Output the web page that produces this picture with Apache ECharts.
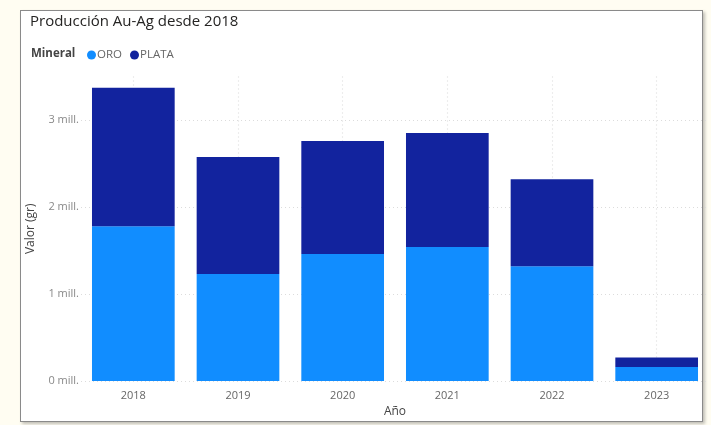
<!DOCTYPE html>
<html>
<head>
<meta charset="utf-8">
<script src="https://cdn.jsdelivr.net/npm/echarts@6/dist/echarts.min.js"></script>
<style>
  html, body { margin:0; padding:0; width:711px; height:425px; background:#fffdf2; overflow:hidden; }
  #frame { position:absolute; left:20px; top:10px; width:681px; height:410px; background:#fff; border:1.5px solid #8a8a8a; box-shadow: 2px 2px 3px rgba(0,0,0,0.25); }
  #chart { position:absolute; left:0; top:0; width:711px; height:425px; }
</style>
</head>
<body>
<div id="frame"></div>
<div id="chart"></div>
<script>
const years = ['2018', '2019', '2020', '2021', '2022', '2023'];
const oro = [1.78, 1.23, 1.46, 1.54, 1.32, 0.16];
const plata = [1.59, 1.345, 1.30, 1.31, 1.00, 0.11];
const seriesNames = ['ORO', 'PLATA'];
const colors = ['#118DFF', '#12239E'];

const chart = echarts.init(document.getElementById('chart'), null, { renderer: 'canvas' });
chart.setOption({
  backgroundColor: 'transparent',
  animation: false,
  title: [
    { text: 'Producción Au-Ag desde 2018', left: 25, top: 9,
      textStyle: { fontFamily: 'Segoe UI, Open Sans, sans-serif', fontSize: 15, fontWeight: 'normal', color: '#252423' } },
    { text: 'Mineral', left: 26, top: 43,
      textStyle: { fontFamily: 'Segoe UI, Open Sans, sans-serif', fontSize: 11.5, fontWeight: 'bold', color: '#444' } }
  ],
  legend: {
    data: seriesNames, left: 82, top: 44, icon: 'circle', itemWidth: 9, itemHeight: 9, itemGap: 8,
    textStyle: { fontFamily: 'Segoe UI, Open Sans, sans-serif', fontSize: 11.5, color: '#666', padding: [0, 0, 0, -4] }
  },
  grid: { left: 81, right: 2, top: 76.5, bottom: 44, containLabel: false },
  xAxis: {
    type: 'category', data: years,
    name: 'Año', nameLocation: 'middle', nameGap: 23,
    nameTextStyle: { fontFamily: 'Segoe UI, Open Sans, sans-serif', fontSize: 12, color: '#444' },
    axisLine: { show: false }, axisTick: { show: false, alignWithLabel: true },
    axisLabel: { color: '#666', fontSize: 11, margin: 9, fontFamily: 'Segoe UI, Open Sans, sans-serif' },
    splitLine: { show: true, alignWithLabel: true, lineStyle: { color: '#dcdcdc', type: [1, 3], width: 1.2 } }
  },
  yAxis: {
    type: 'value', min: 0, max: 3.5, interval: 1,
    name: 'Valor (gr)', nameLocation: 'middle', nameGap: 44, nameRotate: 90,
    nameTextStyle: { fontFamily: 'Segoe UI, Open Sans, sans-serif', fontSize: 12, color: '#444' },
    axisLine: { show: false }, axisTick: { show: false },
    axisLabel: { color: '#888', fontSize: 11, margin: 2, showMaxLabel: false,
      fontFamily: 'Segoe UI, Open Sans, sans-serif',
      formatter: v => (v === 3.5 ? '' : v + ' mill.') },
    splitLine: { show: true, lineStyle: { color: ['#dcdcdc', '#dcdcdc', '#dcdcdc', '#dcdcdc', 'rgba(0,0,0,0)'], type: [1, 3], width: 1.2 } }
  },
  series: [
    { name: seriesNames[0], type: 'bar', stack: 'total', data: oro, barWidth: '79%', itemStyle: { color: colors[0] } },
    { name: seriesNames[1], type: 'bar', stack: 'total', data: plata, barWidth: '79%', itemStyle: { color: colors[1] } }
  ]
});
</script>
</body>
</html>
